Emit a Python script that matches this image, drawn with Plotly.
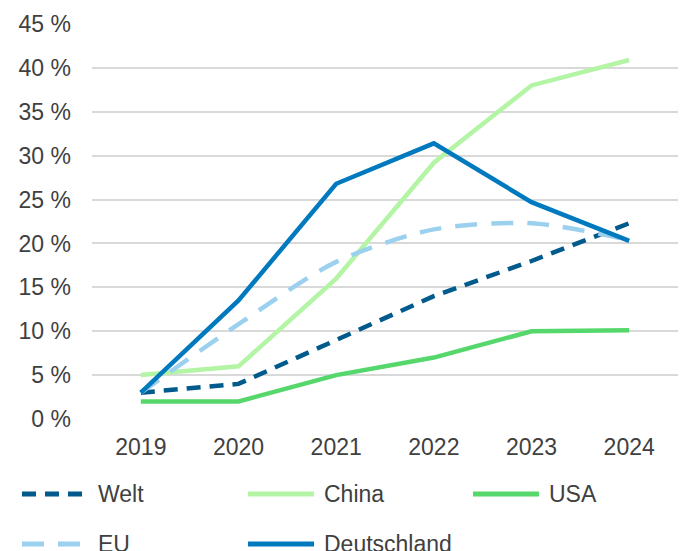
import plotly.graph_objects as go

years = ["2019", "2020", "2021", "2022", "2023", "2024"]
welt = [3.0, 4.0, 9.0, 14.0, 18.0, 22.3]
china = [5.0, 6.0, 16.0, 29.2, 38.0, 40.9]
usa = [2.0, 2.0, 5.0, 7.0, 10.0, 10.1]
eu = [3.0, 10.8, 17.9, 21.6, 22.3, 20.4]
deutschland = [3.0, 13.5, 26.8, 31.4, 24.7, 20.3]
y_ticks = [0, 5, 10, 15, 20, 25, 30, 35, 40, 45]
y_tick_labels = ["0 %", "5 %", "10 %", "15 %", "20 %", "25 %", "30 %", "35 %", "40 %", "45 %"]

series = [
    ("Welt", welt, "#005A8C", "14px,9px", "linear"),
    ("China", china, "#B3F5A5", "solid", "linear"),
    ("USA", usa, "#55D76C", "solid", "linear"),
    ("EU", eu, "#9BD0EE", "22px,14px", "spline"),
    ("Deutschland", deutschland, "#0079BE", "solid", "linear"),
]

OFF = 8  # page body margin
W, H = 686, 551
L, T = 92 - OFF, 24 - OFF
plot_bottom = 419 - OFF
B = H - plot_bottom
pw = 586
R = W - L - pw
ph = plot_bottom - T

fig = go.Figure()
for name, vals, color, dash, shape in series:
    fig.add_trace(go.Scatter(
        x=years, y=vals, name=name, mode="lines",
        line=dict(color=color, width=4.5, dash=dash, shape=shape, smoothing=0.8),
        showlegend=False,
    ))

font_color = "#404040"
FS = 23
fig.update_layout(
    width=W, height=H,
    margin=dict(l=L, r=R, t=T, b=B, autoexpand=False),
    paper_bgcolor="white", plot_bgcolor="white",
    font=dict(family="Liberation Sans, Arial, sans-serif", size=FS, color=font_color),
    xaxis=dict(type="category", range=[-0.5, 5.5], showgrid=False, showline=False,
               zeroline=False, ticks="", ticklabelstandoff=12, automargin=False),
    yaxis=dict(range=[0, 45], tickmode="array", tickvals=y_ticks, ticktext=y_tick_labels,
               showgrid=True, gridcolor="#D9D9D9", gridwidth=1.5, zeroline=False,
               showline=False, ticks="", ticklabelstandoff=20, automargin=False),
)

# custom legend (3 columns, 2 rows), positions in screen pixels
def px_x(p):
    return (p - OFF - L) / pw

def px_y(p):
    return (plot_bottom - (p - OFF)) / ph

col_x = [22, 248, 473]
row_y = [494, 544]
seg = 66
for i, (name, vals, color, dash, shape) in enumerate(series):
    cx = col_x[i % 3]
    cy = row_y[i // 3]
    fig.add_shape(type="line", xref="paper", yref="paper",
                  x0=px_x(cx), x1=px_x(cx + seg), y0=px_y(cy), y1=px_y(cy),
                  line=dict(color=color, width=5, dash=dash))
    fig.add_annotation(xref="paper", yref="paper", x=px_x(cx + seg + 8), y=px_y(cy),
                       text=name, showarrow=False, xanchor="left", yanchor="middle",
                       font=dict(size=FS, color=font_color))

fig.write_html("out.html")
